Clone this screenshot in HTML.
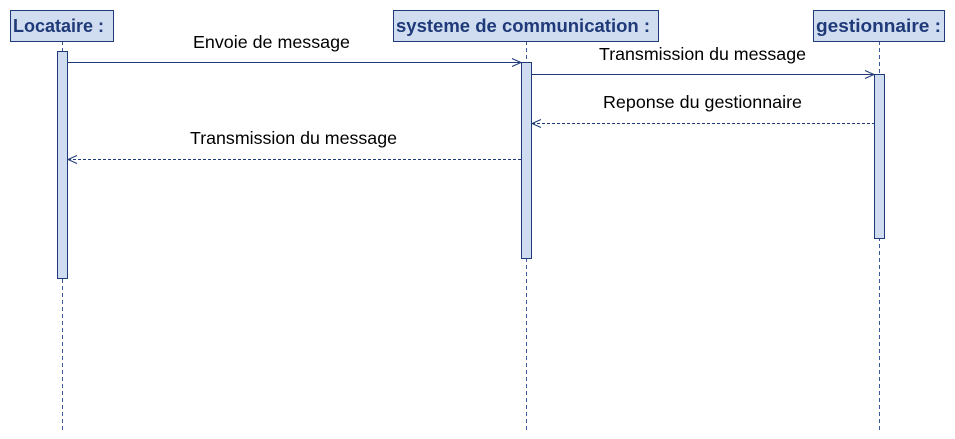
<!DOCTYPE html>
<html><head><meta charset="utf-8"><style>
html,body{margin:0;padding:0;background:#fff;width:955px;height:439px;overflow:hidden}
svg text{font-family:"Liberation Sans",Arial,sans-serif}
</style></head><body>
<svg width="955" height="439" viewBox="0 0 955 439" xmlns="http://www.w3.org/2000/svg">
<g stroke="#3c5a9a" stroke-width="1" stroke-dasharray="4,3" fill="none">
<line x1="62.5" y1="41" x2="62.5" y2="430"/>
<line x1="526.5" y1="41" x2="526.5" y2="430"/>
<line x1="879.5" y1="41" x2="879.5" y2="430"/>
</g>
<g fill="#d0dcf0" stroke="#1f3a78" stroke-width="1">
<rect x="10.5" y="10.5" width="103" height="31"/>
<rect x="393.5" y="10.5" width="265" height="31"/>
<rect x="813.5" y="10.5" width="131" height="31"/>
<rect x="57.5" y="51.5" width="10" height="227"/>
<rect x="521.5" y="62.5" width="10" height="196"/>
<rect x="874.5" y="74.5" width="10" height="164"/>
</g>
<g font-weight="bold" font-size="18" fill="#1f3a78">
<text x="13" y="32" textLength="91" lengthAdjust="spacingAndGlyphs">Locataire :</text>
<text x="396" y="32" textLength="254" lengthAdjust="spacingAndGlyphs">systeme de communication :</text>
<text x="816" y="32" textLength="125" lengthAdjust="spacingAndGlyphs">gestionnaire :</text>
</g>
<g stroke="#1f3a78" stroke-width="1" fill="none">
<line x1="68" y1="62.5" x2="521" y2="62.5"/>
<polyline points="512,58.5 521,62.5 512,66.5"/>
<line x1="532" y1="74.5" x2="874" y2="74.5"/>
<polyline points="865,70.5 874,74.5 865,78.5"/>
<line x1="532" y1="123.5" x2="874" y2="123.5" stroke-dasharray="3,2"/>
<polyline points="541,119.5 532,123.5 541,127.5"/>
<line x1="68" y1="159.5" x2="521" y2="159.5" stroke-dasharray="3,2"/>
<polyline points="77,155.5 68,159.5 77,163.5"/>
</g>
<g font-size="17.5" fill="#000">
<text x="193" y="48" textLength="157" lengthAdjust="spacingAndGlyphs">Envoie de message</text>
<text x="599" y="60" textLength="207" lengthAdjust="spacingAndGlyphs">Transmission du message</text>
<text x="603" y="108" textLength="199" lengthAdjust="spacingAndGlyphs">Reponse du gestionnaire</text>
<text x="190" y="144" textLength="207" lengthAdjust="spacingAndGlyphs">Transmission du message</text>
</g>
</svg>
</body></html>
